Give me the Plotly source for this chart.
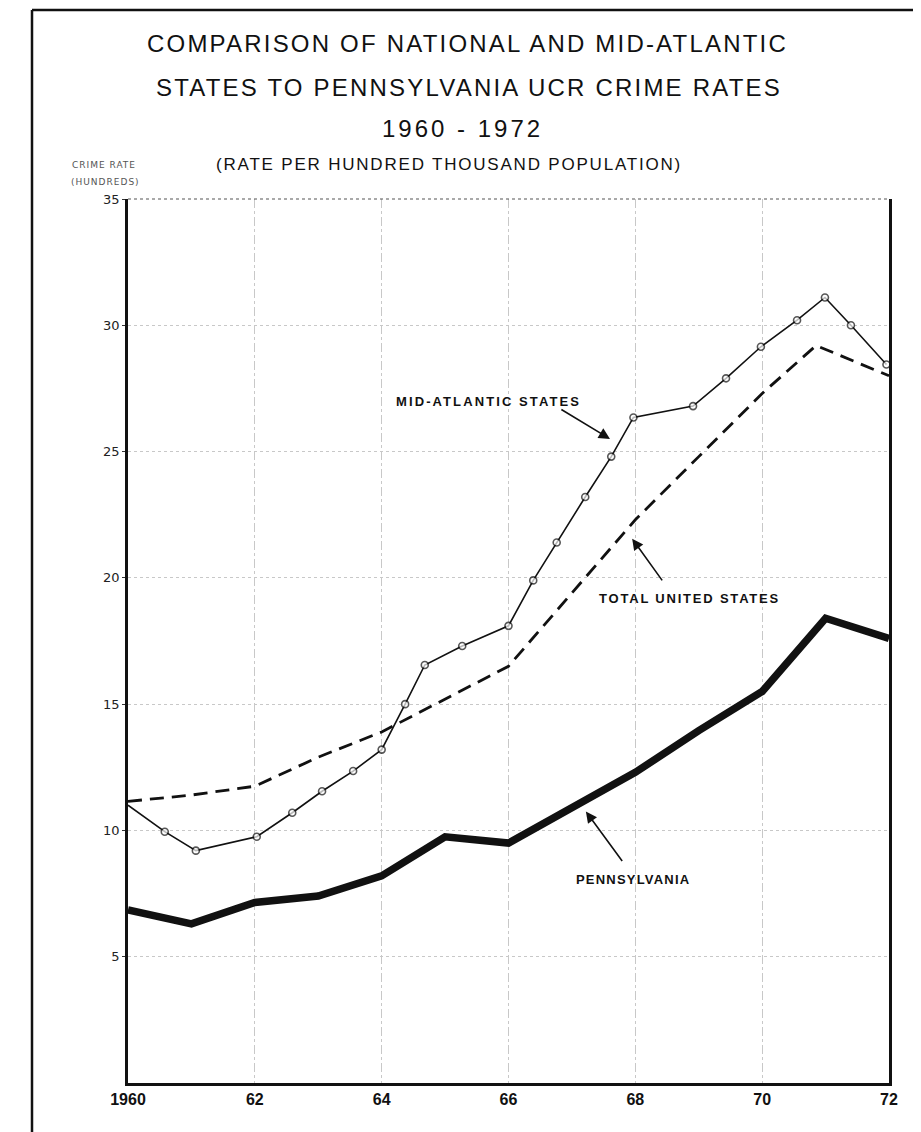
import plotly.graph_objects as go

# ---------------- data (crime rate, hundreds per 100,000 population) ----------------
ma_years = [1960.0, 1960.58, 1961.07, 1962.03, 1962.59, 1963.06, 1963.55, 1964.0, 1964.37,
            1964.68, 1965.27, 1966.0, 1966.39, 1966.76, 1967.21, 1967.62, 1967.97, 1968.91,
            1969.43, 1969.98, 1970.55, 1970.99, 1971.4, 1971.96]
ma_values = [11.0, 9.95, 9.2, 9.75, 10.7, 11.55, 12.35, 13.2, 15.0,
             16.55, 17.3, 18.1, 19.9, 21.4, 23.2, 24.8, 26.35, 26.8,
             27.9, 29.15, 30.2, 31.1, 30.0, 28.45]

us_years = [1960, 1961, 1962, 1963, 1964, 1965, 1966, 1967, 1968, 1969, 1970, 1970.85, 1972]
us_values = [11.15, 11.4, 11.75, 12.9, 13.9, 15.2, 16.5, 19.4, 22.3, 24.8, 27.3, 29.2, 28.0]

pa_years = [1960, 1961, 1962, 1963, 1964, 1965, 1966, 1967, 1968, 1969, 1970, 1971, 1972]
pa_values = [6.85, 6.3, 7.15, 7.4, 8.2, 9.75, 9.5, 10.9, 12.3, 13.95, 15.5, 18.4, 17.6]

x_tickvals = [1960, 1962, 1964, 1966, 1968, 1970, 1972]
x_ticktext = ["1960", "62", "64", "66", "68", "70", "72"]
y_tickvals = [5, 10, 15, 20, 25, 30, 35]
y_ticktext = ["5", "10", "15", "20", "25", "30", "35"]

# ---------------- layout geometry ----------------
W, H = 921, 1132
OFF = 8  # page body margin
ML, MR, MT, MB = 120, 40, 191, 57
PW, PH = W - ML - MR, H - MT - MB


def px(xp):
    return (xp - OFF - ML) / PW


def py(yp):
    return (H - MB - (yp - OFF)) / PH


def spaced(txt, sp):
    return f'<span style="letter-spacing:{sp}px">{txt}</span>'


fig = go.Figure()

fig.add_trace(go.Scatter(
    x=pa_years, y=pa_values, mode="lines", name="Pennsylvania",
    line=dict(color="#111111", width=7.5), hoverinfo="skip"))

fig.add_trace(go.Scatter(
    x=us_years, y=us_values, mode="lines", name="Total United States",
    line=dict(color="#111111", width=2.8, dash="14px,8px"), hoverinfo="skip"))

fig.add_trace(go.Scatter(
    x=ma_years, y=ma_values, mode="lines+markers", name="Mid-Atlantic States",
    line=dict(color="#111111", width=1.6),
    marker=dict(symbol="circle", size=[0] + [7] * (len(ma_years) - 1),
                color="white", line=dict(color="#111111", width=1.6)),
    hoverinfo="skip"))

annotations = []


def paper_text(txt, xr, yr, font):
    return dict(text=txt, x=px(xr), y=py(yr), xref="paper", yref="paper",
                xanchor="center", yanchor="middle", showarrow=False, font=font)


# Titles
title_font = dict(family="Liberation Sans", size=24, color="#111111")
annotations += [
    paper_text(spaced("COMPARISON OF NATIONAL AND MID-ATLANTIC", 2.2), 467, 44, title_font),
    paper_text(spaced("STATES TO PENNSYLVANIA UCR CRIME RATES", 2.2), 469, 87, title_font),
    paper_text(spaced("1960 - 1972", 3.0), 462, 128, title_font),
    paper_text(spaced("(RATE PER HUNDRED THOUSAND POPULATION)", 1.8), 449, 165,
               dict(family="Liberation Sans", size=17, color="#111111")),
    paper_text(spaced("CRIME RATE", 1.0), 104, 165,
               dict(family="DejaVu Sans", size=9, color="#555555")),
    paper_text(spaced("(HUNDREDS)", 1.0), 105, 182,
               dict(family="DejaVu Sans", size=9, color="#555555")),
]

# Series labels
lab_font = dict(family="Liberation Sans", size=13, color="#111111")
annotations += [
    dict(text="<b>" + spaced("MID-ATLANTIC STATES", 2.1) + "</b>", x=1965.68, y=26.98,
         xanchor="center", yanchor="middle", showarrow=False, font=lab_font),
    dict(text="<b>" + spaced("TOTAL UNITED STATES", 1.8) + "</b>", x=1968.86, y=19.17,
         xanchor="center", yanchor="middle", showarrow=False, font=lab_font),
    dict(text="<b>" + spaced("PENNSYLVANIA", 1.2) + "</b>", x=1967.97, y=8.06,
         xanchor="center", yanchor="middle", showarrow=False, font=lab_font),
]

# Arrows
arrow_common = dict(text="", showarrow=True, arrowhead=2, arrowsize=1.4, arrowwidth=1.6,
                    arrowcolor="#111111", axref="x", ayref="y", standoff=0, startstandoff=0)
annotations += [
    dict(x=1967.6, y=25.5, ax=1966.81, ay=26.7, **arrow_common),
    dict(x=1967.95, y=21.55, ax=1968.44, ay=19.84, **arrow_common),
    dict(x=1967.22, y=10.75, ax=1967.81, ay=8.73, **arrow_common),
]

shapes = [
    # outer frame: top and left border lines
    dict(type="line", xref="paper", yref="paper", x0=px(32), x1=px(930), y0=py(10), y1=py(10),
         line=dict(color="#111111", width=2.5)),
    dict(type="line", xref="paper", yref="paper", x0=px(32), x1=px(32), y0=py(10), y1=py(1140),
         line=dict(color="#111111", width=2.5)),
    # dotted top edge of plot area
    dict(type="line", xref="paper", yref="paper", x0=0, x1=1, y0=1, y1=1,
         line=dict(color="#555555", width=1.2, dash="dot")),
]

fig.update_layout(
    width=W, height=H,
    margin=dict(l=ML, r=MR, t=MT, b=MB),
    paper_bgcolor="white", plot_bgcolor="white",
    showlegend=False,
    annotations=annotations, shapes=shapes,
    xaxis=dict(range=[1960, 1972], tickvals=x_tickvals, ticktext=x_ticktext,
               showgrid=True, gridcolor="#c8c8c8", gridwidth=1, griddash="dashdot",
               showline=True, linecolor="#111111", linewidth=2.5, mirror=False,
               ticks="", zeroline=False,
               tickfont=dict(family="Liberation Sans", size=16, color="#111111", weight="bold")),
    yaxis=dict(range=[0, 35], tickvals=y_tickvals, ticktext=y_ticktext,
               showgrid=True, gridcolor="#c8c8c8", gridwidth=1, griddash="dot",
               showline=True, linecolor="#111111", linewidth=2.5, mirror=True,
               ticks="outside", ticklen=3, tickcolor="#333333", zeroline=False,
               tickfont=dict(family="DejaVu Sans", size=13, color="#222222")),
)

fig.write_html("out.html")
